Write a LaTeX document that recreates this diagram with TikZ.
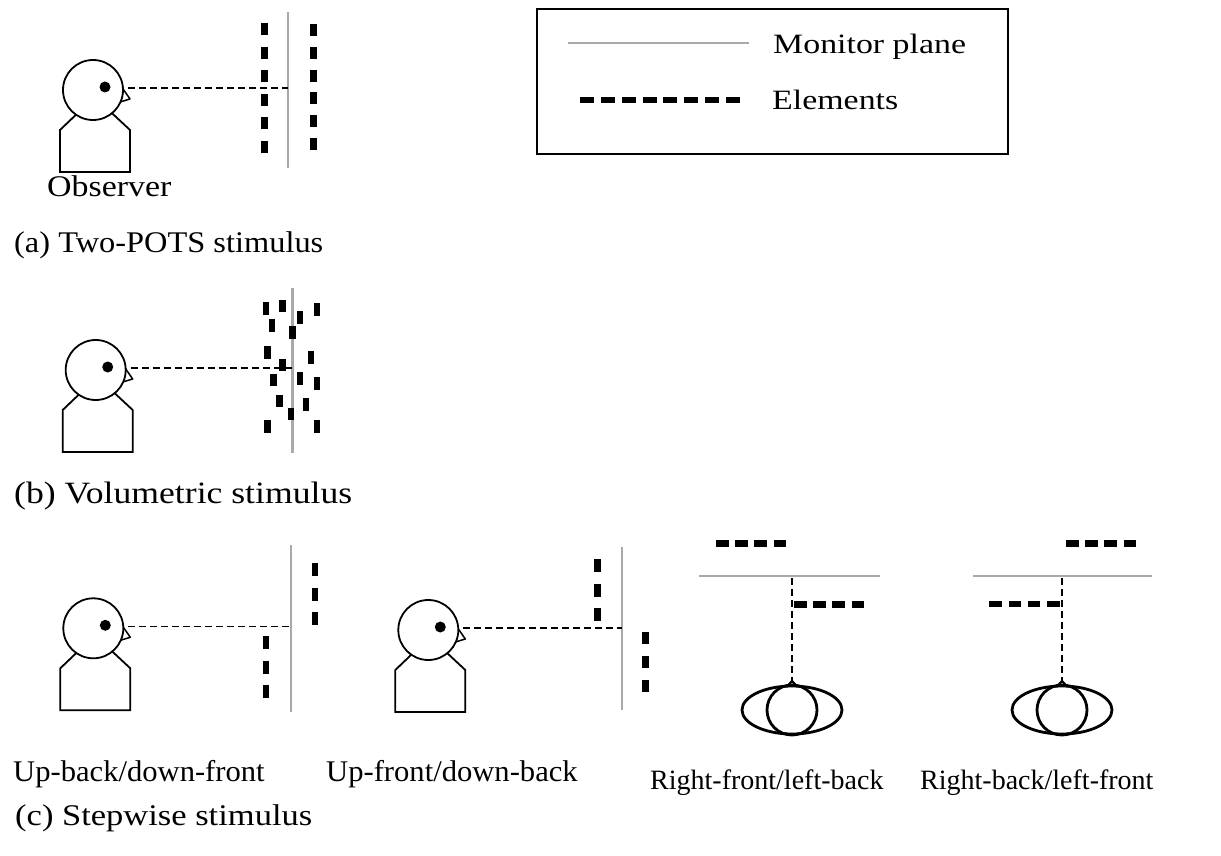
\documentclass[tikz,border=0pt]{standalone}
\usepackage{fontspec}
\setmainfont{Liberation Serif}
\usepackage{graphicx}
\definecolor{plane}{HTML}{A9A9A9}
\begin{document}
\begin{tikzpicture}[x=1pt,y=-1pt,
  outline/.style={line width=1.8pt, line join=miter},
  sight/.style={line width=1.5pt, dash pattern=on 7pt off 4pt},
  monitor/.style={line width=2.4pt, draw=plane},
  elem/.style={line width=6.5pt},
  lbl/.style={inner sep=0pt, anchor=base west, font=\fontsize{30}{36}\selectfont},
  observer/.pic={
    \draw[outline, fill=white] (-17,24.7) -- (-33,40) -- (-33,82) -- (37,82) -- (37,40) -- (19,23.2);
    \draw[line width=1.5pt, fill=white, line join=round] (28,-4) -- (37,9) -- (27,12);
    \draw[outline, fill=white] (0,0) circle (30pt);
    \fill (12,-3) circle (5.5pt);
    \coordinate (-nose) at (35,-2);
  },
  topview/.pic={
    \draw[line width=2.8pt] (0,0) ellipse (50pt and 24pt);
    \draw[line width=2.8pt] (0,0) circle (25pt);
    \draw[line width=2.2pt, line join=round] (-5,-23.5) -- (0,-29) -- (5,-23.5);
    \coordinate (-nose) at (0,-29);
  }
]
\useasboundingbox (0,0) rectangle (1221,856);

% ---------- (a) two planes of elements ----------
\pic (oa) at (93,90) {observer};
\coordinate (ma-top) at (288,12);
\coordinate (ma-bot) at (288,168);
\coordinate (ma-hit) at (288,88);
\draw[monitor] (ma-top) -- (ma-bot);
\draw[sight] (oa-nose) -- (ma-hit);
\draw[elem, dash pattern=on 12pt off 11.6pt] (264.3,23) -- (264.3,155);
\draw[elem, dash pattern=on 12pt off 10.8pt] (313.3,24) -- (313.3,152);
\node[lbl] (obs) at (47,196.7) {\scalebox{1.13}[1]{Observer}};
\node[lbl] (capa) at (14,252) {\scalebox{1.08}[1]{(a) Two-POTS stimulus}};

% ---------- (b) volume of elements ----------
\pic (ob) at (95.7,370) {observer};
\coordinate (mb-top) at (292.3,288);
\coordinate (mb-bot) at (292.3,453);
\coordinate (mb-hit) at (292.3,368);
\draw[monitor] (mb-top) -- (mb-bot);
\draw[sight] (ob-nose) -- (mb-hit);
\foreach \cx/\cy in {266/308.3, 282.3/306, 300/317.7, 316.7/309.3, 271.7/325.7,
    292.3/332.7, 267.3/352.7, 310.7/357.7, 282.3/365, 273.3/380, 300/378.3,
    316.7/383.3, 279.3/401, 306/404.3, 290.7/414, 267.3/426.7, 316.7/426.7}
  \fill (\cx-3.2,\cy-6.3) rectangle ++(6.4,12.6);
\node[lbl, font=\fontsize{31}{37}\selectfont] (capb) at (14,503) {\scalebox{1.15}[1]{(b) Volumetric stimulus}};

% ---------- (c) stepwise, side views ----------
\pic (oc) at (93.3,628.3) {observer};
\coordinate (mc-top) at (290.7,545);
\coordinate (mc-bot) at (290.7,712);
\coordinate (mc-hit) at (290.7,626.3);
\draw[monitor] (mc-top) -- (mc-bot);
\draw[sight] (oc-nose) -- (mc-hit);
\draw[elem, dash pattern=on 13pt off 11.5pt] (315,563) -- (315,626);
\draw[elem, dash pattern=on 13pt off 11.5pt] (266,636) -- (266,699);
\node[lbl] (lc) at (13,781.7) {\scalebox{1.02}[1]{Up-back/down-front}};

\pic (od) at (428.3,630) {observer};
\coordinate (md-top) at (621.7,547);
\coordinate (md-bot) at (621.7,710);
\coordinate (md-hit) at (621.7,628);
\draw[monitor] (md-top) -- (md-bot);
\draw[sight] (od-nose) -- (md-hit);
\draw[elem, dash pattern=on 13pt off 11.5pt] (597.7,559) -- (597.7,622);
\draw[elem, dash pattern=on 12pt off 12pt] (645.7,632) -- (645.7,693);
\node[lbl] (ld) at (326,781.7) {\scalebox{1.02}[1]{Up-front/down-back}};

% ---------- (c) stepwise, top views ----------
\pic (oe) at (792,710) {topview};
\coordinate (me-l) at (699,575.7);
\coordinate (me-r) at (880,575.7);
\coordinate (me-hit) at (792,578);
\draw[monitor] (me-l) -- (me-r);
\draw[sight] (me-hit) -- (oe-nose);
\draw[elem, dash pattern=on 12.7pt off 6.5pt] (716,543.3) -- (787,543.3);
\draw[elem, dash pattern=on 12.7pt off 6.5pt] (794,604.3) -- (865,604.3);
\node[lbl, font=\fontsize{28}{34}\selectfont] (le) at (650,789.3) {Right-front/left-back};

\pic (of) at (1062,710) {topview};
\coordinate (mf-l) at (973,575.7);
\coordinate (mf-r) at (1152,575.7);
\coordinate (mf-hit) at (1062,578);
\draw[monitor] (mf-l) -- (mf-r);
\draw[sight] (mf-hit) -- (of-nose);
\draw[elem, dash pattern=on 12.7pt off 6.5pt] (1066,543.3) -- (1137,543.3);
\draw[elem, dash pattern=on 12.7pt off 6.5pt] (989.3,604) -- (1060,604);
\node[lbl, font=\fontsize{28}{34}\selectfont] (lf) at (920,789.3) {Right-back/left-front};

\node[lbl] (capc) at (15,825) {\scalebox{1.15}[1]{(c) Stepwise stimulus}};

% ---------- legend ----------
\draw[line width=1.5pt] (537,9) rectangle (1008,154);
\coordinate (lg-a) at (568,43);
\coordinate (lg-b) at (749,43);
\draw[monitor] (lg-a) -- (lg-b);
\draw[elem, dash pattern=on 14pt off 6.86pt] (580,100) -- (741,100);
\node[lbl, font=\fontsize{28}{34}\selectfont] (lgm) at (773,53.3) {\scalebox{1.21}[1]{Monitor plane}};
\node[lbl, font=\fontsize{28}{34}\selectfont] (lge) at (772,110) {\scalebox{1.21}[1]{Elements}};
\end{tikzpicture}
\end{document}
